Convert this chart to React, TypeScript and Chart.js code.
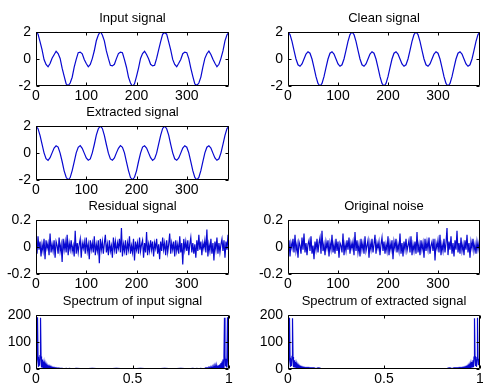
import React, { useEffect, useRef } from "react";
import { Chart, registerables } from "chart.js";

Chart.register(...registerables);

// ---------- data ----------
const signalTicksX = [0, 100, 200, 300];
const signalTicksY = [-2, 0, 2];
const noiseTicksY = [-0.2, 0, 0.2];
const spectrumTicksX = [0, 0.5, 1];
const spectrumTicksY = [0, 100, 200];

const signalStep = 4; // sample spacing of the signal arrays
const noiseStep = 2; // sample spacing of the noise arrays
const fftLength = 384; // spectrum bin -> normalised frequency

const inputSignal = [
  1.97, 1.85, 1.28, 0.69, -0.04, -0.4, -0.58, -0.33, 0.05, 0.32, 0.57, 0.4, 0.04, -0.68, -1.27, -1.84,
  -1.97, -1.78, -1.35, -0.6, -0.03, 0.47, 0.51, 0.39, -0.04, -0.33, -0.58, -0.4, 0.03, 0.61, 1.35, 1.78,
  2.04, 1.78, 1.34, 0.6, 0.04, -0.47, -0.51, -0.39, 0.03, 0.4, 0.5, 0.46, -0.05, -0.61, -1.34, -1.78,
  -2.03, -1.84, -1.28, -0.67, 0.04, 0.4, 0.57, 0.33, 0.02, -0.39, -0.51, -0.46, 0.04, 0.67, 1.28, 1.84,
  1.96, 1.84, 1.27, 0.67, -0.03, -0.4, -0.57, -0.32, -0.03, 0.39, 0.51, 0.47, 0.03, -0.67, -1.28, -1.85,
  -1.96, -1.78, -1.34, -0.61, 0.05, 0.39, 0.58, 0.33, -0.02, -0.32, -0.57, -0.39, 0.05, 0.6, 1.34, 1.79,
  1.98,
];

const cleanSignal = [
  2, 1.81, 1.31, 0.64, 0, -0.43, -0.54, -0.36, 0, 0.36, 0.54, 0.43, 0, -0.64, -1.31, -1.81,
  -2, -1.81, -1.31, -0.64, 0, 0.43, 0.54, 0.36, 0, -0.36, -0.54, -0.43, 0, 0.64, 1.31, 1.81,
  2, 1.81, 1.31, 0.64, 0, -0.43, -0.54, -0.36, 0, 0.36, 0.54, 0.43, 0, -0.64, -1.31, -1.81,
  -2, -1.81, -1.31, -0.64, 0, 0.43, 0.54, 0.36, 0, -0.36, -0.54, -0.43, 0, 0.64, 1.31, 1.81,
  2, 1.81, 1.31, 0.64, 0, -0.43, -0.54, -0.36, 0, 0.36, 0.54, 0.43, 0, -0.64, -1.31, -1.81,
  -2, -1.81, -1.31, -0.64, 0, 0.43, 0.54, 0.36, 0, -0.36, -0.54, -0.43, 0, 0.64, 1.31, 1.81,
  2,
];

const extractedSignal = [
  1.98, 1.8, 1.3, 0.65, 0.01, -0.42, -0.55, -0.35, 0.01, 0.37, 0.53, 0.44, -0.01, -0.63, -1.32, -1.8,
  -1.99, -1.82, -1.3, -0.65, 0.01, 0.42, 0.55, 0.35, -0.01, -0.37, -0.53, -0.44, 0.01, 0.63, 1.32, 1.8,
  1.99, 1.82, 1.3, 0.63, -0.01, -0.44, -0.53, -0.37, 0.01, 0.35, 0.55, 0.42, 0.01, -0.65, -1.3, -1.82,
  -1.98, -1.8, -1.32, -0.63, -0.01, 0.44, 0.53, 0.37, 0.01, -0.35, -0.55, -0.42, -0.01, 0.65, 1.3, 1.82,
  1.99, 1.8, 1.32, 0.64, 0.01, -0.43, -0.54, -0.36, -0.01, 0.36, 0.54, 0.43, 0.01, -0.64, -1.31, -1.81,
  -1.99, -1.81, -1.31, -0.64, 0.01, 0.43, 0.54, 0.36, -0.01, -0.36, -0.54, -0.43, 0.01, 0.64, 1.31, 1.81,
  1.98,
];

const residualSignal = [
  0.03, -0.05, 0.08, -0.02, 0.04, -0.07, 0.02, -0.03, 0.06, -0.09, 0.05, -0.01, 0.03, -0.06, 0.1, -0.04,
  0.02, -0.03, 0.05, -0.08, 0.04, 0.01, -0.05, 0.07, -0.03, 0.02, -0.11, 0.06, -0.02, 0.04, -0.04, 0.09,
  -0.06, 0.03, -0.02, 0.05, -0.03, 0.01, -0.07, 0.12, -0.05, 0.03, -0.04, 0.02, 0.06, -0.08, 0.03, -0.01,
  0.04, -0.05, 0.07, -0.03, 0.02, -0.09, 0.05, -0.02, 0.03, -0.04, 0.08, -0.06, 0.02, -0.03, 0.05, -0.12,
  0.06, -0.02, 0.04, -0.05, 0.03, 0.09, -0.04, 0.02, -0.06, 0.05, -0.03, 0.01, -0.08, 0.07, -0.02, 0.04,
  -0.05, 0.03, -0.01, 0.06, -0.04, 0.14, -0.07, 0.02, -0.03, 0.05, -0.06, 0.03, -0.02, 0.08, -0.05, 0.01,
  -0.04, 0.06, -0.1, 0.04, -0.02, 0.03, -0.05, 0.07, -0.03, 0.02, 0.05, -0.08, 0.03, -0.04, 0.11, -0.06,
  0.02, -0.03, 0.05, -0.02, 0.04, -0.07, 0.03, -0.01, 0.06, -0.05, 0.02, -0.09, 0.04, -0.03, 0.07, -0.02,
  0.03, -0.06, 0.05, -0.04, 0.02, 0.1, -0.05, 0.03, -0.02, 0.04, -0.07, 0.05, -0.03, 0.02, -0.05, 0.08,
  -0.04, 0.03, -0.13, 0.06, -0.02, 0.04, -0.03, 0.05, -0.06, 0.02, 0.07, -0.04, 0.03, -0.05, 0.02, -0.08,
  0.05, -0.03, 0.09, -0.02, 0.04, -0.06, 0.03, -0.01, 0.05, -0.04, 0.13, -0.07, 0.02, -0.03, 0.06, -0.05,
  0.03, -0.1, 0.04, -0.02, 0.07, -0.05, 0.03, -0.04, 0.02, 0.06, -0.03, 0.05, -0.08, 0.04, -0.02, 0.09,
  -0.04,
];

const originalNoise = [
  -0.02, 0.05, -0.07, 0.03, -0.01, 0.06, -0.04, 0.09, -0.03, 0.02, -0.08, 0.04, 0.01, -0.05, 0.07, -0.02,
  0.1, -0.04, 0.03, -0.06, 0.02, 0.05, -0.03, 0.08, -0.05, 0.01, -0.09, 0.04, -0.02, 0.06, -0.04, 0.03,
  0.07, -0.05, 0.12, -0.03, 0.02, -0.06, 0.04, -0.01, 0.05, -0.07, 0.03, -0.02, 0.09, -0.04, 0.02, -0.05,
  0.06, -0.03, 0.04, -0.08, 0.03, 0.01, -0.04, 0.1, -0.06, 0.02, -0.03, 0.05, -0.02, 0.07, -0.05, 0.03,
  -0.01, 0.04, -0.06, 0.11, -0.03, 0.05, -0.04, 0.02, -0.07, 0.06, -0.02, 0.03, -0.05, 0.08, -0.03, 0.01,
  0.05, -0.08, 0.03, -0.02, 0.06, -0.04, 0.02, 0.09, -0.05, 0.03, -0.01, 0.04, -0.06, 0.02, 0.07, -0.03,
  0.04, -0.05, 0.02, -0.03, 0.08, -0.06, 0.03, -0.02, 0.05, -0.09, 0.04, -0.01, 0.06, -0.04, 0.02, -0.03,
  0.1, -0.05, 0.03, -0.07, 0.04, -0.02, 0.06, -0.03, 0.01, 0.05, -0.04, 0.08, -0.06, 0.02, -0.03, 0.04,
  -0.05, 0.11, -0.04, 0.02, -0.06, 0.05, -0.02, 0.03, -0.08, 0.06, -0.03, 0.04, -0.02, 0.07, -0.05, 0.01,
  0.04, -0.03, 0.06, -0.1, 0.03, -0.01, 0.05, -0.04, 0.09, -0.06, 0.02, -0.03, 0.06, -0.04, 0.03, 0.14,
  -0.06, 0.04, -0.02, 0.08, -0.05, 0.03, -0.07, 0.05, -0.02, 0.12, -0.04, 0.03, -0.05, 0.07, -0.03, 0.02,
  -0.06, 0.05, -0.02, 0.09, -0.04, 0.03, -0.08, 0.04, -0.01, 0.06, -0.03, 0.02, -0.05, 0.04, -0.02, 0.03,
  -0.01,
];

const spectrumBins = [
  0, 1, 2, 3, 4, 5, 6, 7, 8, 9, 10, 11, 12, 13, 14, 15, 16, 17, 18, 19, 20, 21, 22, 23, 24,
  25, 26, 27, 28, 29, 30, 31, 32, 33, 34, 35, 36, 37, 38, 39, 40, 41, 42, 43, 44, 45, 46, 47, 48,
  52, 56, 60, 64, 66, 72, 80, 96, 112, 128, 144, 160, 176, 192, 208, 224, 240, 256, 272, 288, 304, 312, 318, 320, 324, 328, 332,
  336, 337, 338, 339, 340, 341, 342, 343, 344, 345, 346, 347, 348, 349, 350, 351, 352, 353, 354, 355, 356, 357, 358, 359,
  360, 361, 362, 363, 364, 365, 366, 367, 368, 369, 370, 371, 372, 373, 374, 375, 376, 377, 378, 379, 380, 381, 382, 383,
];

const inputSpectrum = [
  3, 15, 40, 192, 45, 8, 38, 12, 50, 190, 46, 6, 35, 5, 28, 4, 22, 3, 18, 3, 15, 2, 12, 2, 10,
  2, 9, 1, 8, 1, 7, 1, 6, 1, 5, 1, 5, 1, 4, 1, 4, 1, 3, 1, 3, 1, 3, 1, 2,
  2, 1, 2, 1, 2, 1, 2, 1, 2, 1, 1, 2, 1, 1, 2, 1, 1, 2, 1, 2, 1, 2, 1, 2, 1, 2, 1,
  2, 1, 3, 1, 3, 1, 3, 1, 4, 1, 4, 1, 5, 1, 5, 1, 6, 1, 7, 1,
  8, 1, 9, 2, 10, 2, 12, 2, 15, 3, 18, 3, 22, 4, 28, 5, 35, 6, 46, 190, 50, 12, 38, 8, 45, 192, 40, 15,
];

const extractedSpectrum = [
  2, 14, 38, 190, 42, 8, 36, 11, 47, 188, 44, 7, 32, 6, 26, 5, 20, 4, 16, 4, 13, 3, 11, 3, 9,
  3, 8, 3, 7, 2, 6, 2, 6, 2, 5, 2, 5, 2, 5, 2, 5, 2, 5, 2, 4, 2, 4, 2, 4,
  4, 2, 4, 3, 1, 0.5, 0.3, 0.2, 0.2, 0.2, 0.2, 0.2, 0.2, 0.2, 0.2, 0.2, 0.2, 0.2, 0.2, 0.2, 0.2, 0.3, 1, 3, 4, 2, 4,
  4, 2, 4, 2, 4, 2, 5, 2, 5, 2, 5, 2, 5, 2, 6, 2, 6, 2, 7, 3,
  8, 3, 9, 3, 11, 3, 13, 4, 16, 4, 20, 5, 26, 6, 32, 7, 44, 188, 47, 11, 36, 8, 42, 190, 38, 14,
];

// ---------- presentation ----------
const LINE_COLOR = "#0808d0";
const FONT = "'Liberation Sans', Arial, Helvetica, sans-serif";
const SIDE = 36; // room for y tick labels
const TITLE_BLOCK = 21; // 14px line + 7px gap
const X_AXIS_H = 20;
const AXES_H = 54;

type Pt = { x: number; y: number };
type Spec = {
  title: string;
  points: Pt[];
  xMin: number;
  xMax: number;
  yMin: number;
  yMax: number;
  xTicks: number[];
  yTicks: number[];
  left: number;
  top: number;
  width: number;
};

const toPoints = (values: number[], step: number): Pt[] =>
  values.map((v, i) => ({ x: i * step, y: v }));
const toSpectrum = (values: number[]): Pt[] =>
  values.map((v, i) => ({ x: spectrumBins[i] / fftLength, y: v }));

const COL_L = { left: 36, width: 193 };
const COL_R = { left: 288, width: 192 };
const ROWS = [32, 126, 220, 315];

const signalAxes = { xMin: 0, xMax: 384, yMin: -2, yMax: 2, xTicks: signalTicksX, yTicks: signalTicksY };
const noiseAxes = { xMin: 0, xMax: 384, yMin: -0.2, yMax: 0.2, xTicks: signalTicksX, yTicks: noiseTicksY };
const specAxes = { xMin: 0, xMax: 1, yMin: 0, yMax: 200, xTicks: spectrumTicksX, yTicks: spectrumTicksY };

const specs: Spec[] = [
  { title: "Input signal", points: toPoints(inputSignal, signalStep), ...signalAxes, ...COL_L, top: ROWS[0] },
  { title: "Clean signal", points: toPoints(cleanSignal, signalStep), ...signalAxes, ...COL_R, top: ROWS[0] },
  { title: "Extracted signal", points: toPoints(extractedSignal, signalStep), ...signalAxes, ...COL_L, top: ROWS[1] },
  { title: "Residual signal", points: toPoints(residualSignal, noiseStep), ...noiseAxes, ...COL_L, top: ROWS[2] },
  { title: "Original noise", points: toPoints(originalNoise, noiseStep), ...noiseAxes, ...COL_R, top: ROWS[2] },
  { title: "Spectrum of input signal", points: toSpectrum(inputSpectrum), ...specAxes, ...COL_L, top: ROWS[3] },
  { title: "Spectrum of extracted signal", points: toSpectrum(extractedSpectrum), ...specAxes, ...COL_R, top: ROWS[3] },
];

const boxPlugin = {
  id: "matlabBox",
  afterDatasetsDraw(chart: any) {
    const { ctx, chartArea: a, scales } = chart;
    const l = Math.round(a.left) + 0.5;
    const r = Math.round(a.right) - 0.5;
    const t = Math.round(a.top) + 0.5;
    const b = Math.round(a.bottom) - 0.5;
    const tick = 3;
    ctx.save();
    ctx.strokeStyle = "#000";
    ctx.lineWidth = 1;
    ctx.beginPath();
    ctx.rect(l, t, r - l, b - t);
    for (const tk of scales.x.ticks) {
      const px = Math.round(scales.x.getPixelForValue(tk.value)) + 0.5;
      ctx.moveTo(px, b);
      ctx.lineTo(px, b - tick);
      ctx.moveTo(px, t);
      ctx.lineTo(px, t + tick);
    }
    for (const tk of scales.y.ticks) {
      const py = Math.round(scales.y.getPixelForValue(tk.value)) + 0.5;
      ctx.moveTo(l, py);
      ctx.lineTo(l + tick, py);
      ctx.moveTo(r, py);
      ctx.lineTo(r - tick, py);
    }
    ctx.stroke();
    ctx.restore();
  },
};

function Subplot({ spec }: { spec: Spec }) {
  const ref = useRef<HTMLCanvasElement>(null);
  const w = SIDE + spec.width + SIDE;
  const h = TITLE_BLOCK + AXES_H + X_AXIS_H;

  useEffect(() => {
    const canvas = ref.current;
    if (!canvas) return;
    const chart = new Chart(canvas, {
      type: "line",
      data: {
        datasets: [
          {
            data: spec.points,
            borderColor: LINE_COLOR,
            borderWidth: 1.2,
            pointRadius: 0,
            tension: 0,
            fill: false,
          },
        ],
      },
      options: {
        responsive: false,
        animation: false,
        devicePixelRatio: 1,
        events: [],
        layout: { padding: { left: 0, right: SIDE, top: 0, bottom: 0 } },
        plugins: {
          legend: { display: false },
          tooltip: { enabled: false },
          title: {
            display: true,
            fullSize: false,
            text: spec.title,
            color: "#000",
            font: { family: FONT, size: 13, weight: "normal", lineHeight: "14px" },
            padding: { top: 0, bottom: 7 },
          },
        },
        scales: {
          x: {
            type: "linear",
            min: spec.xMin,
            max: spec.xMax,
            grid: { display: false, drawTicks: false },
            border: { display: false },
            ticks: {
              padding: 2,
              color: "#000",
              font: { family: FONT, size: 14 },
              maxRotation: 0,
              autoSkip: false,
              callback: (v: any) => String(v),
            },
            afterBuildTicks: (s: any) => {
              s.ticks = spec.xTicks.map((v) => ({ value: v }));
            },
            afterFit: (s: any) => {
              s.height = X_AXIS_H;
            },
          },
          y: {
            type: "linear",
            min: spec.yMin,
            max: spec.yMax,
            grid: { display: false, drawTicks: false },
            border: { display: false },
            ticks: {
              padding: 5,
              color: "#000",
              font: { family: FONT, size: 14 },
              autoSkip: false,
              callback: (v: any) => String(v),
            },
            afterBuildTicks: (s: any) => {
              s.ticks = spec.yTicks.map((v) => ({ value: v }));
            },
            afterFit: (s: any) => {
              s.width = SIDE;
            },
          },
        },
      } as any,
      plugins: [boxPlugin],
    });
    return () => chart.destroy();
  }, [spec]);

  return (
    <canvas
      ref={ref}
      width={w}
      height={h}
      style={{
        position: "absolute",
        left: spec.left - SIDE,
        top: spec.top - TITLE_BLOCK,
        width: w,
        height: h,
        display: "block",
      }}
    />
  );
}

export default function App() {
  return (
    <div
      style={{
        position: "absolute",
        left: 0,
        top: 0,
        width: 483,
        height: 387,
        overflow: "hidden",
        background: "#fff",
      }}
    >
      {specs.map((s) => (
        <Subplot key={s.title} spec={s} />
      ))}
    </div>
  );
}
